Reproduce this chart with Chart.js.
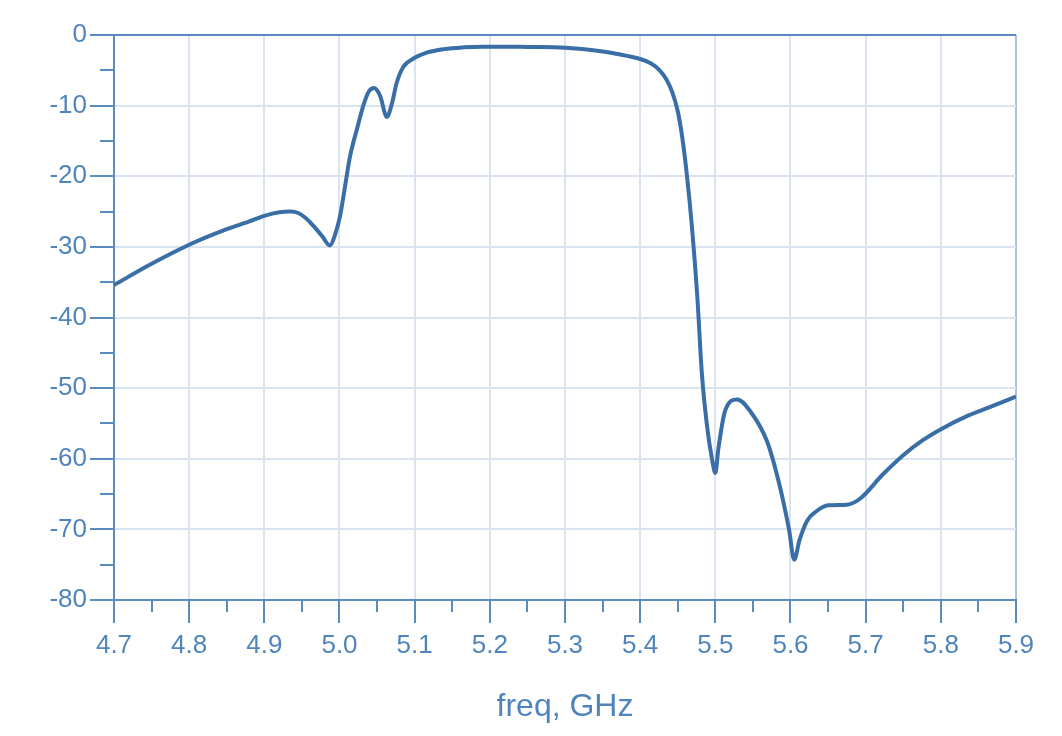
<!DOCTYPE html>
<html>
<head>
<meta charset="utf-8">
<script src="https://cdn.jsdelivr.net/npm/chart.js@4/dist/chart.umd.min.js"></script>
<style>
  html, body { margin: 0; padding: 0; background: #fff; }
  #wrap { width: 1062px; height: 736px; }
</style>
</head>
<body>
<div id="wrap"><canvas id="s21Chart" width="1062" height="736"></canvas></div>
<script>
// values (freq in GHz, response in dB)
var freqGHz = [4.70, 4.75, 4.80, 4.85, 4.88, 4.90, 4.92, 4.935, 4.945, 4.955, 4.965, 4.977, 4.987, 4.994,
  5.001, 5.008, 5.014, 5.023, 5.032, 5.039, 5.046, 5.054, 5.063, 5.070, 5.076, 5.085,
  5.099, 5.116, 5.139, 5.165, 5.19, 5.22, 5.25, 5.30, 5.34, 5.37, 5.40, 5.414, 5.425, 5.435,
  5.443, 5.45, 5.456, 5.462, 5.469, 5.476, 5.482, 5.489, 5.496, 5.500, 5.504, 5.513, 5.529,
  5.546, 5.569, 5.586, 5.598, 5.605, 5.612, 5.622, 5.635, 5.65, 5.675, 5.692, 5.723, 5.75,
  5.777, 5.802, 5.834, 5.865, 5.90];
var s21dB = [-35.4, -32.4, -29.7, -27.5, -26.4, -25.6, -25.1, -25.0, -25.2, -25.9, -27.0, -28.5, -29.8, -28.3,
  -25.5, -21.0, -17.2, -13.4, -9.9, -8.0, -7.5, -8.6, -11.6, -9.6, -6.8, -4.5,
  -3.3, -2.5, -2.0, -1.75, -1.65, -1.65, -1.7, -1.8, -2.2, -2.7, -3.4, -4.0, -4.9, -6.3,
  -8.2, -10.8, -14.5, -19.7, -27.3, -37.0, -47.8, -55.4, -60.3, -62.0, -58.6, -53.2, -51.6,
  -53.2, -57.6, -64.0, -70.0, -74.3, -71.5, -68.8, -67.4, -66.6, -66.5, -65.7, -62.2, -59.5,
  -57.3, -55.7, -54.0, -52.7, -51.2];
var xTicks = [4.7, 4.8, 4.9, 5.0, 5.1, 5.2, 5.3, 5.4, 5.5, 5.6, 5.7, 5.8, 5.9];
var xMinorTicks = [4.75, 4.85, 4.95, 5.05, 5.15, 5.25, 5.35, 5.45, 5.55, 5.65, 5.75, 5.85];
var yTicks = [0, -10, -20, -30, -40, -50, -60, -70, -80];
var yMinorTicks = [-5, -15, -25, -35, -45, -55, -65, -75];

var blueLine = '#3a6ea6';
var axisBlue = '#5b8cbf';
var labelBlue = '#4f85bc';
var gridBlue = '#d9e4f0';

var points = freqGHz.map(function (f, i) { return { x: f, y: s21dB[i] }; });

// short minor tick marks, placed with the chart's own scales
var minorTicks = {
  id: 'minorTicks',
  afterDraw: function (chart) {
    var ctx = chart.ctx;
    var xs = chart.scales.x, ys = chart.scales.y;
    ctx.save();
    ctx.strokeStyle = axisBlue;
    ctx.lineWidth = 2;
    ctx.beginPath();
    yMinorTicks.forEach(function (v) {
      var py = Math.round(ys.getPixelForValue(v));
      ctx.moveTo(ys.right - 14, py);
      ctx.lineTo(ys.right, py);
    });
    xMinorTicks.forEach(function (v) {
      var px = Math.round(xs.getPixelForValue(v));
      ctx.moveTo(px, xs.top);
      ctx.lineTo(px, xs.top + 12);
    });
    ctx.stroke();
    ctx.restore();
  }
};

var ctx = document.getElementById('s21Chart').getContext('2d');
var myChart = new Chart(ctx, {
  type: 'line',
  data: {
    datasets: [{
      data: points,
      borderColor: blueLine,
      borderWidth: 4,
      pointRadius: 0,
      fill: false,
      cubicInterpolationMode: 'monotone'
    }]
  },
  options: {
    responsive: false,
    animation: false,
    layout: { padding: { top: 35, right: 46, left: 0, bottom: 0 } },
    plugins: {
      legend: { display: false },
      tooltip: { enabled: false }
    },
    scales: {
      x: {
        type: 'linear',
        min: 4.7,
        max: 5.9,
        afterBuildTicks: function (scale) {
          scale.ticks = xTicks.map(function (v) { return { value: v }; });
        },
        afterFit: function (scale) { scale.height = 136; },
        ticks: {
          color: labelBlue,
          font: { family: 'Liberation Sans, Arial, sans-serif', size: 26 },
          padding: 7,
          maxRotation: 0,
          callback: function (v) { return Number(v).toFixed(1); }
        },
        grid: {
          color: function (c) { return Math.abs(c.tick.value - 5.9) < 1e-6 ? '#a9c3de' : gridBlue; },
          lineWidth: 2,
          tickLength: 23,
          tickColor: axisBlue,
          tickWidth: 2
        },
        border: { color: axisBlue, width: 2 },
        title: {
          display: true,
          text: 'freq, GHz',
          color: labelBlue,
          font: { family: 'Liberation Sans, Arial, sans-serif', size: 32 },
          padding: { top: 0, bottom: 10 }
        }
      },
      y: {
        min: -80,
        max: 0,
        afterBuildTicks: function (scale) {
          scale.ticks = yTicks.slice().reverse().map(function (v) { return { value: v }; });
        },
        afterFit: function (scale) { scale.width = 114; },
        ticks: {
          color: labelBlue,
          font: { family: 'Liberation Sans, Arial, sans-serif', size: 26 },
          padding: 3
        },
        grid: {
          color: function (c) { return c.tick.value === 0 ? axisBlue : gridBlue; },
          lineWidth: 2,
          tickLength: 24,
          tickColor: axisBlue,
          tickWidth: 2
        },
        border: { color: axisBlue, width: 2 }
      }
    }
  },
  plugins: [minorTicks]
});
</script>
</body>
</html>
